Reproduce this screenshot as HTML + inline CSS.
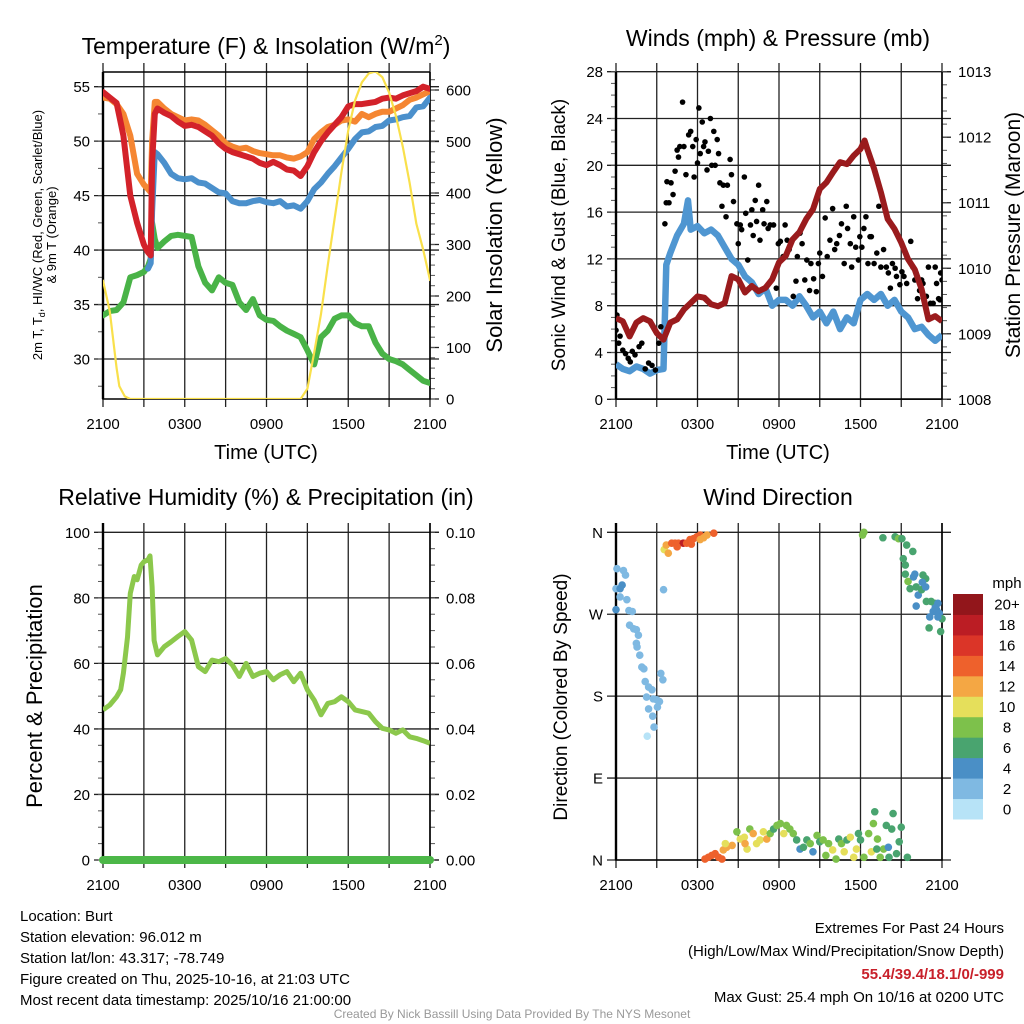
<!DOCTYPE html>
<html><head><meta charset="utf-8"><title>Burt Mesonet Meteogram</title>
<style>
html,body{margin:0;padding:0;background:#fff;}
svg{display:block;font-family:"Liberation Sans",Arial,sans-serif;}
</style></head>
<body>
<svg id="chart" width="1024" height="1024" viewBox="0 0 1024 1024" xmlns="http://www.w3.org/2000/svg">
<rect x="0" y="0" width="1024" height="1024" fill="#fff"/>
</svg>
<script>
// ---------- DATA ----------
const timeTicks=[0,3,6,9,12,15,18,21,24];
const timeLabels=["2100","","0300","","0900","","1500","","2100"];
// Panel 1: temperature
const tHrs=[0,0.5,1,1.5,2,2.5,3,3.3,3.5,3.6,3.8,4,4.5,5,5.5,6,6.5,7,7.5,8,8.5,9,9.5,10,10.5,11,11.5,12,12.5,13,13.5,14,14.5,15,15.5,16,16.5,17,17.5,18,18.5,19,19.5,20,20.5,21,21.5,22,22.5,23,23.5,24];
const temp2m=[54.5,54.0,53.5,50.5,45.0,42.5,40.5,39.8,39.5,48.0,52.5,53.0,52.6,52.3,51.8,51.4,51.5,51.3,50.9,50.5,49.8,49.3,49.0,48.8,48.6,48.4,48.0,47.8,48.1,47.8,47.4,47.3,46.8,47.7,49.0,50.0,50.8,51.5,52.2,53.2,53.4,53.4,53.5,53.6,53.9,54.0,53.9,54.2,54.4,54.6,55.0,54.8];
const temp9m=[54.0,53.9,53.4,52.5,50.5,47.0,46.0,45.6,45.3,50.0,53.6,53.6,53.0,52.5,52.2,51.9,52.0,51.9,51.5,51.0,50.5,49.8,49.5,49.3,49.4,49.1,48.9,48.8,48.7,48.7,48.5,48.4,48.6,49.0,50.2,50.8,51.3,51.5,51.9,52.0,51.8,52.5,52.2,52.5,52.7,52.7,53.0,53.3,53.8,54.0,54.3,54.6];
const windChill=[null,null,null,null,null,null,null,38.3,38.8,43.5,49.0,48.8,48.0,47.0,46.6,46.5,46.6,46.2,46.1,45.7,45.3,45.2,44.5,44.3,44.3,44.5,44.6,44.4,44.3,44.5,44.0,44.1,43.8,44.5,45.6,46.2,47.0,47.7,48.5,49.3,50.2,50.8,50.9,51.3,51.4,51.9,52.0,52.2,52.3,53.1,53.2,54.0];
const dewPoint=[34.0,34.4,34.5,35.2,37.5,37.7,38.0,38.5,39.2,42.5,41.0,40.2,40.8,41.3,41.4,41.3,41.2,38.5,37.0,36.3,37.5,37.0,36.8,35.2,34.5,35.5,34.0,33.6,33.5,33.0,32.6,32.3,32.0,30.8,29.5,32.0,32.6,33.7,34.0,34.0,33.3,33.0,33.0,31.5,30.5,30.0,29.8,29.5,29.0,28.5,28.0,27.8];
const solarHrs=[0,0.5,1,1.2,1.6,2,14.5,15,15.5,16,16.5,17,17.5,18,18.5,19,19.5,20,20.5,21,21.5,22,22.5,23,23.5,24];
const solarVals=[230,170,60,25,5,0,0,20,90,165,260,350,440,522,580,615,632,636,625,595,550,490,420,340,290,231];
// Panel 2: wind / pressure
const windHrs=[0,0.5,1,1.5,2,2.5,3,3.5,3.7,4,4.5,5,5.3,5.5,6,6.5,7,7.5,8,8.5,9,9.5,10,10.5,11,11.5,12,12.5,13,13.5,14,14.5,15,15.5,16,16.5,17,17.5,18,18.5,19,19.5,20,20.5,21,21.5,22,22.5,23,23.5,24];
const windVals=[3.0,2.6,2.4,2.8,2.6,2.2,2.5,2.6,11.5,12.5,14.0,15.0,17.0,14.5,14.8,14.2,14.5,14.0,13.0,12.0,11.5,10.5,10.0,9.0,9.5,8.0,8.5,8.5,8.0,8.8,8.0,7.0,7.5,6.5,7.5,6.0,7.0,6.5,8.5,9.0,8.5,9.0,8.0,8.5,7.5,7.0,6.0,6.2,5.5,5.0,5.5];
const presHrs=[0,0.5,1,1.5,2,2.5,3,3.5,4,4.5,5,5.5,6,6.5,7,7.5,8,8.5,9,9.5,10,10.5,11,11.5,12,12.5,13,13.5,14,14.5,15,15.5,16,16.5,17,17.5,18,18.3,18.5,19,19.5,20,20.5,21,21.5,22,22.5,23,23.5,24];
const presVals=[1009.24,1009.19,1008.96,1009.17,1009.24,1009.19,1009.01,1008.91,1009.17,1009.22,1009.37,1009.47,1009.57,1009.55,1009.45,1009.42,1009.47,1009.88,1009.83,1009.63,1009.73,1009.65,1009.70,1009.83,1010.09,1010.19,1010.44,1010.55,1010.75,1010.90,1011.21,1011.31,1011.47,1011.62,1011.59,1011.72,1011.82,1011.95,1011.82,1011.52,1011.16,1010.75,1010.60,1010.39,1010.14,1009.98,1009.68,1009.22,1009.27,1009.19];
const gustHrs=[0,0.07,0.2,0.3,0.5,0.7,0.9,1.05,1.2,1.4,1.7,1.9,2.15,2.4,2.65,2.9,3.15,3.3,3.6,3.7,3.75,3.9,4.05,4.2,4.35,4.5,4.6,4.7,4.9,5.0,5.15,5.35,5.5,5.65,5.75,5.9,6.0,6.1,6.2,6.35,6.45,6.55,6.7,6.8,6.95,7.05,7.2,7.3,7.45,7.55,7.65,7.8,7.9,8.1,8.2,8.4,8.5,8.65,8.9,9.0,9.15,9.25,9.45,9.55,9.7,9.9,10.0,10.1,10.25,10.35,10.5,10.6,10.8,10.9,11.1,11.2,11.35,11.6,11.8,11.95,12.1,12.3,12.45,12.6,12.75,13.05,13.25,13.35,13.55,13.7,13.9,14.05,14.25,14.35,14.55,14.75,14.9,15.0,15.2,15.4,15.55,15.75,15.95,16.1,16.25,16.45,16.6,16.8,16.95,17.05,17.25,17.35,17.5,17.65,17.85,17.95,18.1,18.25,18.4,18.55,18.7,18.8,19.0,19.2,19.35,19.5,19.7,19.9,20.05,20.2,20.35,20.55,20.65,20.9,21.05,21.2,21.4,21.7,21.85,22.0,22.2,22.35,22.5,22.6,22.85,23.0,23.15,23.35,23.5,23.6,23.75,23.85,23.9,24.0];
const gustVals=[5.9,7.2,4.8,5.4,4.2,3.9,3.5,3.2,4.1,3.8,4.5,4.8,2.6,3.1,2.9,2.5,4.8,6.2,15.0,16.8,18.6,16.8,18.5,17.5,19.5,21.3,20.7,21.6,25.4,21.6,19.2,22.6,22.9,21.6,19.0,22.2,20.2,24.9,21.0,23.7,21.6,22.0,19.6,21.2,24.0,20.0,22.9,20.0,22.2,21.0,18.5,16.5,18.3,15.6,18.3,20.5,19.2,16.9,15.0,13.3,14.9,14.5,19.0,15.9,11.9,14.9,16.2,14.0,17.0,15.2,18.3,13.6,16.2,15.0,16.9,14.6,14.9,14.9,9.5,13.3,13.5,12.2,14.9,13.6,12.8,8.8,10.1,12.2,14.2,13.3,10.2,11.9,9.3,11.6,10.3,9.2,11.6,12.5,10.5,15.5,12.2,13.6,16.3,12.8,13.3,14.0,15.0,11.6,16.5,14.6,13.3,11.3,15.6,13.0,11.9,13.9,13.0,14.6,15.6,11.6,13.9,13.9,11.6,12.5,16.5,11.3,12.8,11.3,10.8,9.5,11.6,11.2,10.5,9.8,10.9,10.5,9.9,13.5,11.3,10.2,8.6,9.3,10.2,9.9,8.8,11.3,8.2,8.2,11.3,9.9,8.6,8.5,10.8,10.2];
// Panel 3: RH & precip
const rhHrs=[0,0.5,1,1.3,1.5,1.8,2,2.3,2.5,2.8,3,3.3,3.45,3.6,3.75,4,4.5,5,5.5,6,6.5,7,7.5,8,8.5,9,9.5,10,10.5,11,11.5,12,12.5,13,13.5,14,14.5,15,15.5,16,16.5,17,17.5,18,18.5,19,19.5,20,20.5,21,21.5,22,22.5,23,23.5,24];
const rhVals=[45.8,47.3,49.8,52.0,57.0,68.0,81.4,86.5,85.5,90.0,91.0,91.6,92.8,83.4,67.0,62.6,65.1,66.6,68.2,69.7,67.1,59.0,57.5,61.0,60.5,61.5,59.5,56.0,60.0,56.0,57.0,57.5,55.0,56.5,57.5,54.4,57.0,51.9,48.8,44.3,47.8,48.3,49.8,48.3,45.8,45.3,44.8,42.2,40.2,39.7,38.7,39.7,37.6,37.1,36.4,35.6];
const precipHrs=[0,24];
const precipVals=[0,0];
// Panel 4: wind direction
const dirHrs=[0.07,0,0,0.3,0.45,0.55,0.7,0.3,0.8,0.95,1.2,1.0,1.3,1.5,1.65,1.5,1.55,1.75,1.9,2.05,2.15,2.4,2.65,2.25,2.75,3.0,3.2,2.4,3.05,2.7,2.8,2.3,3.3,3.45,3.5,
3.55,3.7,3.85,4.1,4.35,4.6,4.95,5.2,5.45,5.7,5.95,6.2,6.45,6.7,7.2,6.2,5.55,4.5,
6.55,6.8,7.05,7.3,7.55,7.8,7.9,8.15,8.55,8.05,8.9,9.15,9.45,9.65,9.85,9.5,10.1,10.35,10.6,10.85,11.1,11.35,11.6,11.85,12.1,12.35,12.55,12.8,13.05,13.3,13.55,13.8,14.05,14.3,14.5,14.8,15.0,15.25,15.45,15.65,15.95,16.2,16.4,16.6,16.8,17.0,17.25,17.5,17.7,17.85,18.0,18.25,18.6,18.8,18.95,19.05,19.25,19.45,19.7,19.9,20.1,20.3,20.4,20.65,20.85,21.0,21.45,20.05,19.2,
18.15,18.25,19.65,20.55,20.8,21.05,21.4,21.85,21.15,21.3,21.3,21.5,21.65,21.9,22.0,22.1,22.25,22.1,22.6,22.8,22.55,22.5,22.8,22.85,23.2,23.45,23.1,23.35,23.6,23.7,23.8,24.0,23.05,23.9,23.7,23.5];
const dirVals=[320,298,275,298,302,318,313,289,286,274,273,258,254,253,247,238,234,225,212,210,196,190,187,179,177,176,174,166,168,158,146,136,205,198,297,
341,346,337,348,348,348,348,348,352,353,355,357,354,357,359,352,347,344,
1,3,5,7,3,1,11,14,16,18,31,23,25,12,34,18,29,18,22,31,23,29,34,38,40,29,38,34,29,22,12,14,22,18,9,27,20,22,5,18,11,1,23,18,9,22,25,3,12,29,22,3,29,9,40,53,23,3,12,38,3,34,51,7,20,36,3,14,12,
357,360,354,355,353,353,346,339,331,324,314,306,298,311,314,300,291,279,313,309,305,297,300,284,284,282,267,273,275,282,271,265,255,251,267,277];
const dirSpeed=[3,3,4,4,4,3,3,3,3,3,3,3,3,3,3,3,3,3,3,3,3,3,3,3,3,3,3,3,3,3,3,1,3,3,3,
11,12,12,14,14,15,19,15,15,14,14,15,13,12,14,12,14,14,
15,15,14,15,14,15,12,12,12,10,8,10,10,10,8,12,13,10,10,10,12,8,6,8,8,10,8,8,8,6,4,6,6,8,4,8,6,8,8,8,10,8,6,8,10,6,10,10,10,6,6,8,8,10,8,6,8,8,8,6,6,6,6,6,6,6,6,4,6,
8,8,6,6,8,6,6,6,6,6,6,8,6,4,4,6,4,4,6,6,4,6,4,6,6,6,4,4,4,4,4,6,6,6,4,4];
const speedLevels=["0","2","4","6","8","10","12","14","16","18","20+"];
const speedColors=["#b7e3f7","#7fb9e2","#4a8fc6","#49a46f","#7dc14b","#e5df5b","#f4a744","#ee612c","#db3528","#bb1d24","#92161b"];

// ---------- HELPERS ----------
const NS="http://www.w3.org/2000/svg";
const svg=document.getElementById("chart");
function el(tag,attrs,parent){const e=document.createElementNS(NS,tag);for(const k in attrs)e.setAttribute(k,attrs[k]);(parent||svg).appendChild(e);return e;}
function scale(d0,d1,r0,r1){return v=>r0+(v-d0)*(r1-r0)/(d1-d0);}
function txt(s,x,y,size,anchor,parent,opts){opts=opts||{};const t=el("text",{x:x,y:y,"font-size":size,"text-anchor":anchor||"start",fill:opts.fill||"#000"},parent);if(opts.weight)t.setAttribute("font-weight",opts.weight);if(opts.rot!==undefined)t.setAttribute("transform","rotate("+opts.rot+" "+x+" "+y+")");t.textContent=s;return t;}
function pathD(hrs,vals,xs,ys){let d="",pen=false;for(let i=0;i<hrs.length;i++){const v=vals[i];if(v===null||v===undefined){pen=false;continue;}d+=(pen?"L":"M")+xs(hrs[i]).toFixed(1)+","+ys(v).toFixed(1);pen=true;}return d;}
let clipId=0;
function clip(P){clipId++;const cp=el("clipPath",{id:"c"+clipId});el("rect",{x:P.l,y:P.t,width:P.r-P.l,height:P.b-P.t},cp);return "url(#c"+clipId+")";}

function frame(P,g,name){
  const fg=el("g",{},g);
  
  
  timeTicks.forEach((h,i)=>{
    const x=P.xs(h);
    const ln=el("line",{x1:x,y1:P.gt,x2:x,y2:P.b+8,stroke:"#222","stroke-width":1.3},fg);
    
    
    if(timeLabels[i]){const t=txt(timeLabels[i],x,P.b+30,15,"middle",fg);
      
      }
  });
}
function leftAxis(P,g,majors,minors,ys,labels){
  majors.forEach((v,i)=>{const y=ys(v);
    const ln=el("line",{x1:P.l-9,y1:y,x2:P.r+9,y2:y,stroke:"#222","stroke-width":1.3},g);
    
    
    const t=txt(labels?labels[i]:String(v),P.l-13,y+5.5,15,"end",g);
    
    });
  minors.forEach(v=>{const y=ys(v);
    const m=el("line",{x1:P.l-5,y1:y,x2:P.l,y2:y,stroke:"#555","stroke-width":1},g);
    
    });
}
function rightAxis(P,g,majors,minors,ys,fmt){
  majors.forEach(v=>{const y=ys(v);
    const ln=el("line",{x1:P.r,y1:y,x2:P.r+9,y2:y,stroke:"#222","stroke-width":1.3},g);
    
    
    const t=txt(fmt(v),P.r+16,y+5.5,15,"start",g);
    
    });
  minors.forEach(v=>{const y=ys(v);
    const m=el("line",{x1:P.r,y1:y,x2:P.r+5,y2:y,stroke:"#555","stroke-width":1},g);
    
    });
}
function border(P,g,top){
  const b=el("path",{d:(top?"M"+P.l+","+P.t+"H"+P.r:"")+"M"+P.l+","+P.t+"V"+P.b+"H"+P.r+"V"+P.t,fill:"none",stroke:"#000","stroke-width":1.6},g);
  
  
  const lf=el("line",{x1:P.l,y1:P.t,x2:P.l,y2:P.b,stroke:"#000","stroke-width":2.4},g);
  
  
}
function range(a,b,s){const r=[];for(let v=a;v<=b+1e-9;v+=s)r.push(+v.toFixed(4));return r;}

// ---------- PANEL 1 ----------
(function(){
  const P={l:103,r:430,t:72,b:399,gt:63};P.xs=scale(0,24,P.l,P.r);
  const yT=scale(30,55,359,86.7), yS=scale(0,600,399,90);
  const g=el("g",{});
  
  
  frame(P,g,"temperature");
  leftAxis(P,g,range(30,55,5),range(27.5,55,2.5),yT);
  rightAxis(P,g,range(0,600,100),range(0,620,20),yS,v=>String(v));
  border(P,g,true);
  const cg=el("g",{"clip-path":clip(P)},g);
  const series=[["dewpoint-line",dewPoint,"#49b347",tHrs,yT,6],["wind-chill-line",windChill,"#4b90cc",tHrs,yT,6],["temp-9m-line",temp9m,"#f58632",tHrs,yT,6],["temp-2m-line",temp2m,"#d3222a",tHrs,yT,6],["solar-line",solarVals,"#f9e04b",solarHrs,yS,2.2]];
  series.forEach(s=>{const p=el("path",{d:pathD(s[3],s[1],P.xs,s[4]),fill:"none",stroke:s[2],"stroke-width":s[5],"stroke-linejoin":"round","stroke-linecap":"round"},cg);
    
    });
  const t1=el("text",{x:266,y:54,"font-size":23,"text-anchor":"middle"},g);
  
  
  t1.innerHTML='Temperature (F) &amp; Insolation (W/m<tspan dy="-9" font-size="15">2</tspan><tspan dy="9">)</tspan>';
  const yt=el("text",{x:42,y:235,"font-size":13,"text-anchor":"middle",transform:"rotate(-90 42 235)"},g);
  
  
  yt.innerHTML='2m T, T<tspan dy="3" font-size="9">d</tspan><tspan dy="-3">, HI/WC (Red, Green, Scarlet/Blue)</tspan>';
  const yt2=txt("& 9m T (Orange)",56,235,13,"middle",g,{rot:-90});
  
  
  const rt=txt("Solar Insolation (Yellow)",502,235,22,"middle",g,{rot:-90});
  
  
  const xt=txt("Time (UTC)",266,459,20,"middle",g);
  
  
})();

// ---------- PANEL 2 ----------
(function(){
  const P={l:616,r:942,t:72,b:399,gt:63};P.xs=scale(0,24,P.l,P.r);
  const yW=scale(0,28,399.3,71.7), yP=scale(1008,1013,399.3,71.7);
  const g=el("g",{});
  
  
  frame(P,g,"wind");
  leftAxis(P,g,range(0,28,4),range(0,28,1),yW);
  rightAxis(P,g,range(1008,1013,1),range(1008,1013,0.2),yP,v=>String(v));
  border(P,g,false);
  const cg=el("g",{"clip-path":clip(P)},g);
  const wl=el("path",{d:pathD(windHrs,windVals,P.xs,yW),fill:"none",stroke:"#4f96d1","stroke-width":6.5,"stroke-linejoin":"round"},cg);
  
  
  const dg=el("g",{},cg);
  
  
  gustHrs.forEach((h,i)=>{const c=el("circle",{cx:P.xs(h),cy:yW(gustVals[i]),r:2.8,fill:"#000"},dg);
    
    });
  const pl=el("path",{d:pathD(presHrs,presVals,P.xs,yP),fill:"none",stroke:"#9a1b1d","stroke-width":6,"stroke-linejoin":"round"},cg);
  
  
  const t=txt("Winds (mph) & Pressure (mb)",778,46,23,"middle",g);
  
  
  const l=txt("Sonic Wind & Gust (Blue, Black)",565,235,19,"middle",g,{rot:-90});
  
  
  const r=txt("Station Pressure (Maroon)",1020,235,21,"middle",g,{rot:-90});
  
  
  const xt=txt("Time (UTC)",778,459,20,"middle",g);
  
  
})();

// ---------- PANEL 3 ----------
(function(){
  const P={l:103,r:430,t:523,b:860,gt:523};P.xs=scale(0,24,P.l,P.r);
  const yR=scale(0,100,860,532.3), yQ=scale(0,0.1,860,532.3);
  const g=el("g",{});
  
  
  frame(P,g,"humidity");
  leftAxis(P,g,range(0,100,20),range(0,100,5),yR);
  rightAxis(P,g,range(0,0.1,0.02),range(0,0.1,0.005),yQ,v=>v.toFixed(2));
  border(P,g,false);
  const cg=el("g",{"clip-path":clip(P)},g);
  const rl=el("path",{d:pathD(rhHrs,rhVals,P.xs,yR),fill:"none",stroke:"#8cc84c","stroke-width":5,"stroke-linejoin":"round"},cg);
  
  
  const pp=el("path",{d:pathD(precipHrs,precipVals,P.xs,yQ),fill:"none",stroke:"#4cb748","stroke-width":8,"stroke-linecap":"round"},g);
  
  
  const t=txt("Relative Humidity (%) & Precipitation (in)",266,505,23,"middle",g);
  
  
  const l=txt("Percent & Precipitation",42,696,22,"middle",g,{rot:-90});
  
  
})();

// ---------- PANEL 4 ----------
(function(){
  const P={l:616,r:942,t:523,b:860,gt:523};P.xs=scale(0,24,P.l,P.r);
  const yD=scale(0,360,860,532.3);
  const g=el("g",{});
  
  
  frame(P,g,"direction");
  leftAxis(P,g,[0,90,180,270,360],[],yD,["N","E","S","W","N"]);
  border(P,g,false);
  const dg=el("g",{},g);
  
  
  dirHrs.forEach((h,i)=>{const s=dirSpeed[i];let k=Math.floor(s/2);if(k>10)k=10;
    const c=el("circle",{cx:P.xs(h),cy:yD(dirVals[i]),r:3.8,fill:speedColors[k]},dg);
    
    });
  const t=txt("Wind Direction",778,505,23,"middle",g);
  
  
  const l=txt("Direction (Colored By Speed)",567,697,19,"middle",g,{rot:-90});
  
  
  const cb=el("g",{},g);
  
  
  const top=594,bot=819,h=(bot-top)/speedLevels.length;
  speedLevels.forEach((lab,i)=>{const y=bot-(i+1)*h;
    const r=el("rect",{x:953,y:y,width:30,height:h+0.5,fill:speedColors[i]},cb);
    
    
    const tl=txt(lab,1007,y+h/2+5.5,15,"middle",cb);
    
    });
  const u=txt("mph",1007,588,15,"middle",cb);
  
  
})();

// ---------- FOOTER ----------
(function(){
  const g=el("g",{});
  
  
  const left=["Location: Burt","Station elevation: 96.012 m","Station lat/lon: 43.317; -78.749","Figure created on Thu, 2025-10-16, at 21:03 UTC","Most recent data timestamp: 2025/10/16 21:00:00"];
  left.forEach((s,i)=>{const t=txt(s,20,921+i*21,15,"start",g);
    
    });
  const r1=txt("Extremes For Past 24 Hours",1004,933,15,"end",g);
  
  
  const r2=txt("(High/Low/Max Wind/Precipitation/Snow Depth)",1004,956,15,"end",g);
  
  
  const r3=txt("55.4/39.4/18.1/0/-999",1004,979,15,"end",g,{fill:"#c8202a",weight:"bold"});
  
  
  const r4=txt("Max Gust: 25.4 mph On 10/16 at 0200 UTC",1004,1002,15,"end",g);
  
  
  const c=txt("Created By Nick Bassill Using Data Provided By The NYS Mesonet",512,1018,12,"middle",g,{fill:"#999"});
  
  
})();
</script>
</body></html>
